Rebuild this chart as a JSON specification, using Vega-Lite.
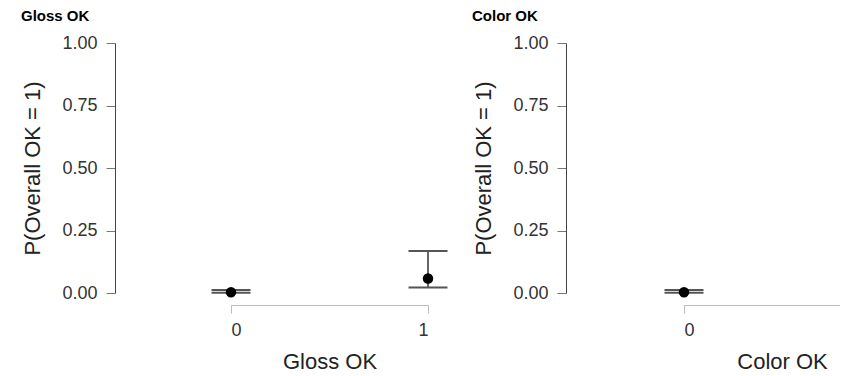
{
  "$schema": "https://vega.github.io/schema/vega-lite/v6.json",
  "autosize": {"type": "pad"},
  "padding": {"left": 20, "top": 9, "right": 0, "bottom": 0},
  "background": "white",
  "bounds": "flush",
  "spacing": 51,
  "config": {
    "font": "Liberation Sans",
    "view": {"stroke": null},
    "title": {"anchor": "start", "frame": "bounds", "fontSize": 15, "fontWeight": "bold", "color": "#000000", "offset": 10, "dx": -1},
    "axisY": {"domainColor": "#444444", "tickColor": "#777777", "tickSize": 9, "labelPadding": 9, "labelFontSize": 18, "labelColor": "#333333", "titleFontSize": 22, "titleColor": "#222222", "titleFontWeight": "normal", "titlePadding": 17, "grid": false},
    "axisX": {"domainColor": "#bbbbbb", "tickColor": "#bbbbbb", "tickSize": 8, "offset": 12, "labelPadding": 8, "labelFontSize": 18, "labelColor": "#333333", "titleFontSize": 22, "titleColor": "#222222", "titleFontWeight": "normal", "titlePadding": 12, "grid": false}
  },
  "datasets": {
    "effects": [
      {"var": "Gloss OK", "level": 0, "est": 0.003, "lo": 0.001, "hi": 0.012},
      {"var": "Gloss OK", "level": 1, "est": 0.058, "lo": 0.022, "hi": 0.168},
      {"var": "Color OK", "level": 0, "est": 0.003, "lo": 0.001, "hi": 0.012}
    ]
  },
  "hconcat": [
    {
      "title": "Gloss OK",
      "width": 400,
      "height": 250,
      "data": {"name": "effects"},
      "transform": [{"filter": "datum.var === 'Gloss OK'"}],
      "encoding": {
        "x": {"field": "level", "type": "quantitative", "title": "Gloss OK",
              "scale": {"domain": [0, 1], "range": [116, 313], "nice": false, "zero": false},
              "axis": {"values": [0, 1], "format": "d"}}
      },
      "layer": [
        {"mark": {"type": "rule", "color": "#666666", "strokeWidth": 2},
         "encoding": {"y": {"field": "lo", "type": "quantitative", "title": "P(Overall OK = 1)", "scale": {"domain": [0, 1], "nice": false}, "axis": {"values": [0, 0.25, 0.5, 0.75, 1], "format": ".2f"}}, "y2": {"field": "hi"}}},
        {"mark": {"type": "tick", "orient": "horizontal", "color": "#555555", "thickness": 2, "size": 39, "opacity": 1},
         "encoding": {"y": {"field": "lo", "type": "quantitative", "title": "P(Overall OK = 1)"}}},
        {"mark": {"type": "tick", "orient": "horizontal", "color": "#555555", "thickness": 2, "size": 39, "opacity": 1},
         "encoding": {"y": {"field": "hi", "type": "quantitative", "title": "P(Overall OK = 1)"}}},
        {"mark": {"type": "point", "filled": true, "color": "#000000", "size": 110, "opacity": 1},
         "encoding": {"y": {"field": "est", "type": "quantitative", "title": "P(Overall OK = 1)"}}}
      ]
    },
    {
      "title": "Color OK",
      "width": 274,
      "height": 250,
      "data": {"name": "effects"},
      "transform": [{"filter": "datum.var === 'Color OK'"}],
      "encoding": {
        "x": {"field": "level", "type": "quantitative", "title": "Color OK",
              "scale": {"domain": [0, 0.792], "range": [118, 274], "nice": false, "zero": false},
              "axis": {"values": [0], "format": "d", "titleX": 216}}
      },
      "layer": [
        {"mark": {"type": "rule", "color": "#666666", "strokeWidth": 2},
         "encoding": {"y": {"field": "lo", "type": "quantitative", "title": "P(Overall OK = 1)", "scale": {"domain": [0, 1], "nice": false}, "axis": {"values": [0, 0.25, 0.5, 0.75, 1], "format": ".2f"}}, "y2": {"field": "hi"}}},
        {"mark": {"type": "tick", "orient": "horizontal", "color": "#555555", "thickness": 2, "size": 39, "opacity": 1},
         "encoding": {"y": {"field": "lo", "type": "quantitative", "title": "P(Overall OK = 1)"}}},
        {"mark": {"type": "tick", "orient": "horizontal", "color": "#555555", "thickness": 2, "size": 39, "opacity": 1},
         "encoding": {"y": {"field": "hi", "type": "quantitative", "title": "P(Overall OK = 1)"}}},
        {"mark": {"type": "point", "filled": true, "color": "#000000", "size": 110, "opacity": 1},
         "encoding": {"y": {"field": "est", "type": "quantitative", "title": "P(Overall OK = 1)"}}}
      ]
    }
  ]
}
